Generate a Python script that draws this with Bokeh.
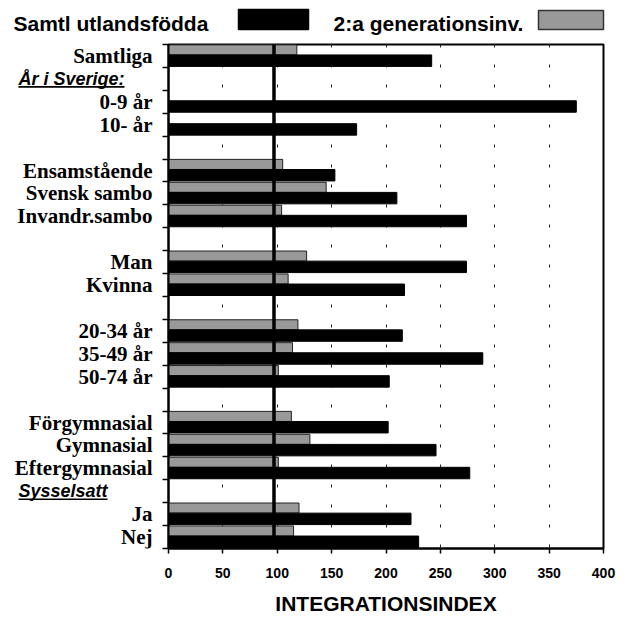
from bokeh.plotting import figure
from bokeh.models import Range1d, FixedTicker, Span, ColumnDataSource
from bokeh.layouts import column, row
from bokeh.core.properties import value
from bokeh.embed import file_html
from bokeh.resources import INLINE

# ---------------- data ----------------
rows = ["Samtliga", "År i Sverige:", "0-9 år", "10- år", "",
        "Ensamstående", "Svensk sambo", "Invandr.sambo", "",
        "Man", "Kvinna", "",
        "20-34 år", "35-49 år", "50-74 år", "",
        "Förgymnasial", "Gymnasial", "Eftergymnasial",
        "Sysselsatt", "Ja", "Nej"]
headers = ["År i Sverige:", "Sysselsatt"]

samtl_utlandsfodda = [242, None, 375, 173, None,
                      153, 210, 274, None,
                      274, 217, None,
                      215, 289, 203, None,
                      202, 246, 277,
                      None, 223, 230]
andra_generationsinv = [118, None, None, None, None,
                        105, 145, 104, None,
                        127, 110, None,
                        119, 114, 101, None,
                        113, 130, 101,
                        None, 120, 115]
reference_line = 97
x_ticks = [0, 50, 100, 150, 200, 250, 300, 350, 400]
x_title = "INTEGRATIONSINDEX"
legend_labels = ["Samtl utlandsfödda", "2:a generationsinv."]

BLACK = "#000000"
GRAY = "#999999"

n = len(rows)
y_range = Range1d(n - 0.5, -0.5)

# ---------------- bars ----------------
blk = [(i, v) for i, v in enumerate(samtl_utlandsfodda) if v is not None]
gry = [(i, v) for i, v in enumerate(andra_generationsinv) if v is not None]
src_b = ColumnDataSource(dict(y=[i + 0.206 for i, _ in blk], right=[v for _, v in blk]))
src_g = ColumnDataSource(dict(y=[i - 0.265 for i, _ in gry], right=[v for _, v in gry]))

main = figure(frame_width=435, frame_height=504,
              x_range=Range1d(0, 400), y_range=y_range,
              output_backend="svg", toolbar_location=None,
              min_border_left=8, min_border_right=17,
              min_border_top=4, min_border_bottom=68)
main.background_fill_color = "white"
main.border_fill_color = "white"
main.outline_line_color = "black"
main.outline_line_width = 2

main.hbar(y="y", left=0, right="right", height=0.44, source=src_g,
          fill_color=GRAY, line_color="#222222", line_width=1)
main.hbar(y="y", left=0, right="right", height=0.5, source=src_b,
          fill_color=BLACK, line_color=BLACK, line_width=1)

main.add_layout(Span(location=reference_line, dimension="height",
                     line_color="black", line_width=3.5))

# x axis
main.xaxis.ticker = FixedTicker(ticks=x_ticks)
main.xaxis.axis_label = x_title
main.xaxis.axis_label_text_font = "Liberation Sans"
main.xaxis.axis_label_text_font_style = "bold"
main.xaxis.axis_label_text_font_size = "21px"
main.xaxis.axis_label_text_color = "black"
main.xaxis.axis_label_standoff = 11
main.xaxis.major_label_text_font = "Liberation Sans"
main.xaxis.major_label_text_font_style = "bold"
main.xaxis.major_label_text_font_size = "14px"
main.xaxis.major_label_text_color = "black"
main.xaxis.major_label_standoff = 14
main.xaxis.major_tick_out = 5
main.xaxis.major_tick_in = 0
main.xaxis.major_tick_line_color = "black"
main.xaxis.major_tick_line_width = 1.5
main.xaxis.minor_tick_line_color = None
main.xaxis.axis_line_color = "black"
main.xaxis.axis_line_width = 2

# y axis (ticks between rows only)
main.yaxis.ticker = FixedTicker(ticks=[], minor_ticks=[i - 0.5 for i in range(n + 1)])
main.yaxis.major_tick_out = 0
main.yaxis.major_tick_in = 0
main.yaxis.major_label_standoff = 0
main.yaxis.minor_tick_out = 6
main.yaxis.minor_tick_in = 0
main.yaxis.minor_tick_line_color = "black"
main.yaxis.minor_tick_line_width = 1.5
main.yaxis.axis_line_color = "black"
main.yaxis.axis_line_width = 2

main.xgrid.grid_line_color = "#222222"
main.xgrid.grid_line_width = 1
main.xgrid.grid_line_dash = "3 17"
main.ygrid.visible = False

# ---------------- row labels ----------------
labels = figure(frame_width=160, frame_height=504,
                x_range=Range1d(0, 160), y_range=y_range,
                output_backend="svg", toolbar_location=None,
                x_axis_location=None, y_axis_location=None,
                min_border_left=0, min_border_right=0,
                min_border_top=4, min_border_bottom=68)
labels.outline_line_color = None
labels.xgrid.visible = False
labels.ygrid.visible = False
labels.background_fill_color = "white"
labels.border_fill_color = "white"

cat = [(i, r) for i, r in enumerate(rows) if r and r not in headers]
labels.text(x=[152] * len(cat), y=[i for i, _ in cat], text=[r for _, r in cat],
            text_align="right", text_baseline="middle",
            text_font=value("Liberation Serif"), text_font_style="bold",
            text_font_size="21px", text_color="black")

hdr = [(i, r) for i, r in enumerate(rows) if r in headers]
labels.text(x=[18] * len(hdr), y=[i for i, _ in hdr], text=[r for _, r in hdr],
            text_align="left", text_baseline="middle",
            text_font=value("Liberation Sans"), text_font_style="bold italic",
            text_font_size="18px", text_color="black")
underline_len = {"År i Sverige:": 106, "Sysselsatt": 89}
labels.segment(x0=[18] * len(hdr), x1=[18 + underline_len[r] for _, r in hdr],
               y0=[i + 0.35 for i, _ in hdr], y1=[i + 0.35 for i, _ in hdr],
               line_color="black", line_width=1.6)

# ---------------- legend row ----------------
leg = figure(frame_width=620, frame_height=40,
             x_range=Range1d(0, 620), y_range=Range1d(40, 0),
             output_backend="svg", toolbar_location=None,
             x_axis_location=None, y_axis_location=None,
             min_border_left=0, min_border_right=0,
             min_border_top=0, min_border_bottom=0)
leg.outline_line_color = None
leg.xgrid.visible = False
leg.ygrid.visible = False
leg.background_fill_color = "white"
leg.border_fill_color = "white"
leg.text(x=[13, 333], y=[22.5, 22.5], text=legend_labels,
         text_align="left", text_baseline="middle",
         text_font=value("Liberation Sans"), text_font_style="bold",
         text_font_size="21px", text_color="black")
leg.rect(x=[273, 570.5], y=[19, 19.5], width=[70, 65], height=[20, 19],
         fill_color=[BLACK, GRAY], line_color=[BLACK, "#333333"], line_width=1.5)

layout = column(leg, row(labels, main))

with open("out.html", "w") as f:
    f.write(file_html(layout, INLINE))
